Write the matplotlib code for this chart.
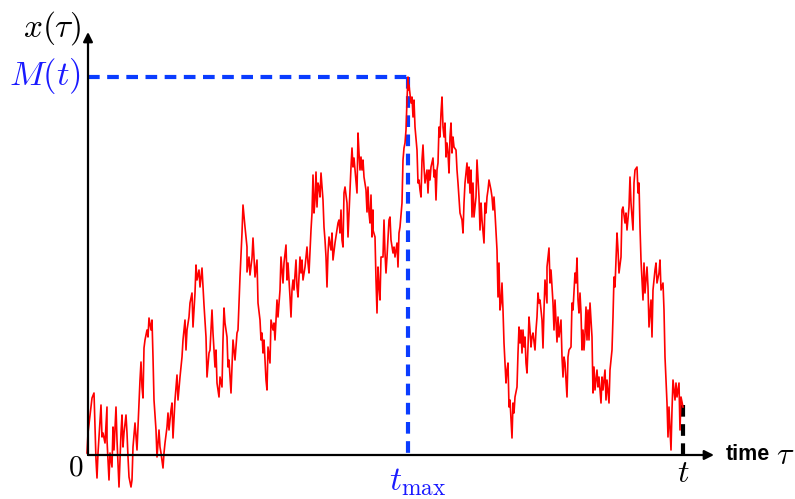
import matplotlib
matplotlib.use("Agg")
import matplotlib.pyplot as plt
import numpy as np

plt.rcParams['mathtext.fontset'] = 'cm'

# Path: (pixel x, pixel y) pairs converted below
path_px = [
    (87,453),(88,433),(92,398),(94,393),(96,460),(97,478),(98,453),(101,405),(102,437),(103,433),
    (105,443),(107,407),(107,440),(109,480),(110,453),(112,467),(113,427),(114,450),(116,407),(117,440),
    (119,487),(121,433),(122,415),(123,447),(124,433),(126,415),(127,433),(128,457),(129,477),(131,487),
    (132,480),(133,447),(135,423),(137,450),(138,427),(140,380),(141,362),(142,387),(143,398),(144,348),
    (145,340),(147,330),(148,337),(149,318),(151,330),(152,320),(153,357),(154,400),(156,430),(157,457),
    (159,430),(160,447),(161,453),(163,468),(164,453),(165,443),(167,427),(168,413),(169,430),(171,410),
    (172,403),(173,438),(175,400),(177,375),(178,400),(180,377),(182,357),(183,340),(185,320),(186,350),
    (187,330),(189,317),(190,303),(192,293),(193,327),(195,293),(196,265),(197,280),(199,270),(200,287),
    (202,268),(203,287),(204,305),(206,337),(207,377),(209,353),(210,350),(212,310),(213,333),(215,367),
    (216,350),(217,383),(219,397),(220,377),(222,387),(223,340),(224,308),(225,323),(227,337),(228,367),
    (229,360),(231,393),(232,367),(233,340),(235,360),(237,333),(238,330),(240,277),(242,233),(243,205),
    (245,227),(247,247),(247,272),(249,257),(250,275),(252,258),(253,238),(255,277),(257,260),(258,303),
    (260,320),(261,340),(262,333),(263,353),(264,340),(266,380),(267,390),(268,347),(270,363),(271,320),
    (273,330),(274,323),(275,340),(277,300),(278,317),(280,290),(281,257),(283,283),(284,263),(286,245),
    (287,280),(288,263),(290,297),(291,317),(292,290),(293,280),(294,290),(296,260),(297,287),(298,297),
    (300,257),(301,273),(302,260),(303,280),(305,267),(307,247),(308,263),(309,273),(311,230),(312,213),
    (313,175),(314,213),(315,200),(316,172),(317,207),(318,183),(319,187),(320,197),(321,173),(323,200),
    (324,227),(325,240),(326,257),(327,287),(328,253),(329,237),(331,250),(332,233),(333,260),(335,243),
    (337,230),(338,223),(339,220),(340,233),(341,210),(342,240),(343,247),(344,193),(345,187),(347,203),
    (348,237),(349,213),(350,187),(351,167),(352,148),(353,167),(354,158),(355,170),(357,193),(358,133),
    (359,153),(360,170),(361,157),(362,170),(363,160),(364,177),(366,190),(367,212),(368,187),(369,213),
    (370,223),(371,195),(372,237),(373,210),(373,230),(375,237),(376,280),(377,313),(378,267),(379,287),
    (380,300),(381,257),(383,257),(384,220),(385,253),(386,273),(387,257),(389,220),(390,217),(391,240),
    (393,253),(394,247),(395,257),(397,243),(398,267),(399,233),(400,227),(402,203),(403,160),(404,148),
    (405,143),(406,130),(407,100),(408,77),(408,90),(409,85),(411,103),(412,97),(413,117),(414,100),
    (415,127),(417,150),(418,183),(419,180),(420,190),(421,197),(422,160),(423,145),(424,167),(425,183),
    (427,170),(428,193),(429,170),(430,180),(431,167),(433,158),(434,177),(435,170),(436,200),(437,170),
    (438,163),(439,127),(440,137),(441,113),(442,97),(443,127),(444,137),(445,123),(446,157),(447,143),
    (448,153),(449,173),(450,137),(451,123),(452,153),(453,137),(454,147),(456,150),(457,170),(458,183),
    (460,213),(462,220),(463,233),(464,203),(465,183),(467,163),(468,183),(469,167),(470,193),(471,170),
    (472,217),(473,183),(474,217),(476,197),(477,160),(479,197),(480,230),(481,203),(482,220),(484,243),
    (485,203),(486,213),(487,197),(488,190),(489,180),(491,190),(492,197),(493,210),(494,197),(495,213),
    (497,250),(498,297),(499,263),(500,310),(501,303),(502,283),(503,310),(504,343),(506,383),(507,370),
    (508,363),(509,407),(510,400),(511,420),(512,438),(513,403),(514,413),(515,397),(517,387),(518,353),
    (519,327),(520,343),(521,330),(522,353),(523,330),(524,347),(525,337),(526,363),(527,373),(528,347),
    (529,317),(530,330),(531,347),(532,337),(533,333),(535,350),(536,330),(537,317),(538,293),(539,303),
    (540,300),(542,320),(543,348),(544,310),(545,280),(547,303),(547,267),(549,248),(550,283),(551,270),
    (553,303),(554,330),(555,300),(556,320),(557,342),(558,317),(559,337),(561,320),(562,357),(563,377),
    (564,357),(565,363),(567,397),(568,357),(569,350),(571,347),(572,303),(573,310),(575,273),(576,283),
    (577,258),(578,300),(579,313),(580,293),(581,313),(582,350),(583,330),(584,350),(585,333),(586,307),
    (587,340),(588,310),(589,340),(590,303),(592,337),(593,393),(594,367),(595,390),(597,370),(598,387),
    (599,377),(601,403),(602,377),(603,390),(605,370),(606,400),(607,380),(609,403),(610,370),(612,350),
    (613,317),(614,277),(615,287),(617,233),(618,250),(619,273),(621,257),(622,210),(623,207),(625,223),
    (626,213),(627,230),(629,207),(630,177),(631,203),(633,230),(634,183),(635,170),(637,167),(638,193),
    (639,183),(640,227),(641,260),(643,300),(644,263),(645,293),(647,267),(648,287),(649,327),(651,300),
    (652,337),(653,290),(655,270),(656,263),(657,283),(659,273),(660,260),(661,290),(663,283),(664,310),
    (665,357),(667,403),(668,437),(669,407),(671,450),(672,410),(673,380),(675,400),(676,383),(677,397),
    (679,383),(680,430),(681,397),(683,407),
]
ORIGIN_PX = (88, 455)
tau = [p[0] - ORIGIN_PX[0] for p in path_px]
xval = [ORIGIN_PX[1] - p[1] for p in path_px]

t_end = 595
t_max = tau[int(np.argmax(xval))]
M = max(xval)
x_end = xval[-1]

W, H = 795, 499
fig = plt.figure(figsize=(W/100, H/100), dpi=100)
ax = fig.add_axes([0, 0, 1, 1])
ax.set_xlim(-ORIGIN_PX[0], W - ORIGIN_PX[0])
ax.set_ylim(ORIGIN_PX[1] - H, ORIGIN_PX[1])
ax.axis('off')

blue = '#0a3cff'
# path
ax.plot(tau, xval, color='#ff0000', lw=1.2, zorder=3)

# axes with arrows
ax.annotate('', xy=(0, 423), xytext=(0, 0),
            arrowprops=dict(arrowstyle='-|>', color='black', lw=1.6,
                            mutation_scale=14, shrinkA=0, shrinkB=0), zorder=4)
ax.annotate('', xy=(626, 0), xytext=(0, 0),
            arrowprops=dict(arrowstyle='-|>', color='black', lw=1.6,
                            mutation_scale=14, shrinkA=0, shrinkB=0), zorder=4)

# dashed lines
ax.plot([0, t_max], [M, M], color=blue, lw=3, linestyle=(0, (2.8, 1.8)), zorder=2)
ax.plot([t_max, t_max], [M, 0], color=blue, lw=3, linestyle=(0, (2.8, 1.8)), zorder=2)
ax.plot([t_end, t_end], [0, x_end + 5], color='black', lw=3, linestyle=(0, (2.8, 1.8)), zorder=2)

# labels
ax.text(-36, 427, r'$x(\tau)$', fontsize=24, ha='center', va='center')
ax.text(-43, 379, r'$M(t)$', fontsize=25, color='#1a1aff', ha='center', va='center')
ax.text(-12, -12, r'$0$', fontsize=21, ha='center', va='center')
ax.text(t_max + 10, -27, r'$t_{\max}$', fontsize=24, color='#1a1aff', ha='center', va='center')
ax.text(t_end, -18, r'$t$', fontsize=23, ha='center', va='center')
ax.text(638, 0, 'time', fontsize=15.5, fontweight='bold', family='Liberation Sans',
        ha='left', va='center')
ax.text(688, 0, r'$\tau$', fontsize=23, ha='left', va='center')

fig.savefig('out.png', dpi=100)
